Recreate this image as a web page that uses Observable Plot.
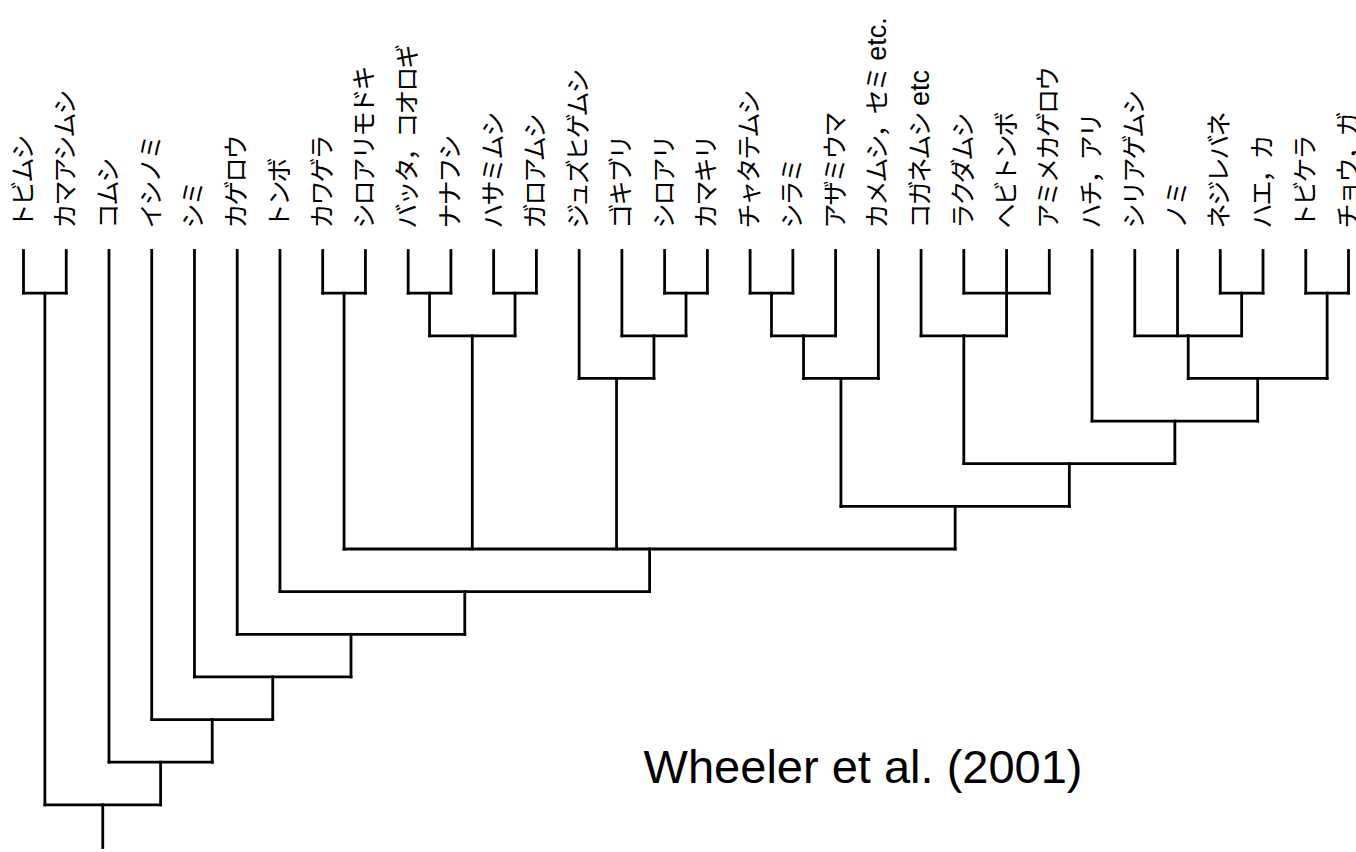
<!DOCTYPE html>
<html>
<head>
<meta charset="utf-8">
<script src="https://cdn.jsdelivr.net/npm/d3@7"></script>
<script src="https://cdn.jsdelivr.net/npm/@observablehq/plot@0.6"></script>
<style>
  html, body { margin: 0; padding: 0; background: #fff; }
  #chart svg { display: block; }
</style>
</head>
<body>
<div id="chart"></div>
<script>
// Leaf taxa (left to right)
const leaves = [
  "トビムシ", "カマアシムシ", "コムシ", "イシノミ", "シミ", "カゲロウ", "トンボ",
  "カワゲラ", "シロアリモドキ", "バッタ，コオロギ", "ナナフシ", "ハサミムシ", "ガロアムシ",
  "ジュズヒゲムシ", "ゴキブリ", "シロアリ", "カマキリ",
  "チャタテムシ", "シラミ", "アザミウマ", "カメムシ，セミ etc.",
  "コガネムシ etc", "ラクダムシ", "ヘビトンボ", "アミメカゲロウ",
  "ハチ，アリ", "シリアゲムシ", "ノミ", "ネジレバネ", "ハエ，カ", "トビケラ", "チョウ，ガ"
];

// Topology: [level, ...children]; children are leaf indices or nested clades
const tree = [13,
  [1, 0, 1],
  [12, 2,
    [11, 3,
      [10, 4,
        [9, 5,
          [8, 6,
            [7,
              [1, 7, 8],
              [2, [1, 9, 10], [1, 11, 12]],
              [3, 13, [2, 14, [1, 15, 16]]],
              [6,
                [3, [2, [1, 17, 18], 19], 20],
                [5,
                  [2, 21, [1, 22, 23, 24]],
                  [4, 25, [3, [2, 26, 27, [1, 28, 29]], [1, 30, 31]]]
                ]
              ]
            ]
          ]
        ]
      ]
    ]
  ]
];
const rootStemEnd = 14;
const sourceNote = "Wheeler et al. (2001)";

// Build elbow segments from the topology
const segments = [];
function layout(n) {
  if (typeof n === "number") return {x: n, y: 0};
  const [level, ...kids] = n;
  const pos = kids.map(layout);
  const xs = pos.map(p => p.x);
  const lo = Math.min(...xs), hi = Math.max(...xs);
  segments.push({x1: lo, y1: level, x2: hi, y2: level});
  for (const p of pos) segments.push({x1: p.x, y1: p.y, x2: p.x, y2: level});
  return {x: (lo + hi) / 2, y: level};
}
const root = layout(tree);
segments.push({x1: root.x, y1: root.y, x2: root.x, y2: rootStemEnd});

const leafData = leaves.map((name, i) => ({name, i}));

const chart = Plot.plot({
  width: 1356,
  height: 852,
  marginTop: 250,
  marginBottom: 5,
  marginLeft: 23,
  marginRight: 8,
  x: {domain: [0, leaves.length - 1], range: [23, 1348], axis: null},
  y: {domain: [0, rootStemEnd], range: [250, 847], axis: null},
  style: {background: "white", overflow: "visible"},
  marks: [
    Plot.link(segments, {
      x1: "x1", y1: "y1", x2: "x2", y2: "y2",
      stroke: "black", strokeWidth: 2.8, strokeLinecap: "square"
    }),
    Plot.text(leafData, {
      x: "i", y: () => 0, text: "name",
      rotate: -90, textAnchor: "start", dy: -22,
      fontSize: 25, fill: "black",
      fontFamily: "'Noto Sans CJK JP', 'Liberation Sans', sans-serif"
    }),
    Plot.text([sourceNote], {
      text: d => d, frameAnchor: "bottom-right", textAnchor: "end",
      dx: -266, dy: -65, fontSize: 47, fill: "black",
      fontFamily: "'Liberation Sans', Arial, sans-serif"
    })
  ]
});

// Proportional-gothic look: tighten the kana runs, keep Latin runs (etc.) in a sans face
const svgns = "http://www.w3.org/2000/svg";
const labelGroup = chart.querySelector('g[aria-label="text"]');
labelGroup.querySelectorAll("text").forEach(t => {
  const s = t.textContent;
  const m = s.match(/^(.*?)(\s*[A-Za-z].*)?$/);
  t.textContent = "";
  const kana = document.createElementNS(svgns, "tspan");
  kana.textContent = m[1];
  kana.setAttribute("letter-spacing", "-2px");
  t.appendChild(kana);
  if (m[2]) {
    const latin = document.createElementNS(svgns, "tspan");
    latin.textContent = m[2];
    latin.setAttribute("font-family", "'Liberation Sans', Arial, sans-serif");
    latin.setAttribute("font-size", "27");
    t.appendChild(latin);
  }
});

document.getElementById("chart").appendChild(chart);
</script>
</body>
</html>
